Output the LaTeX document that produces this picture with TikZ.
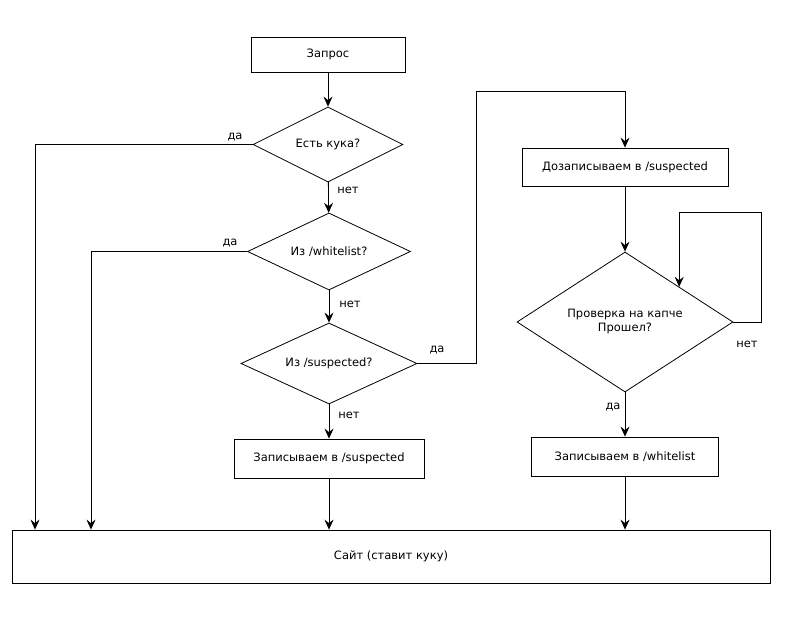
\documentclass[tikz,border=0pt]{standalone}
\usepackage{fontspec}
\setmainfont{DejaVu Sans}
\usetikzlibrary{shapes.geometric,arrows.meta}
\begin{document}
\begin{tikzpicture}[x=1pt,y=-1pt,
  every node/.style={font=\fontsize{11.5}{14}\selectfont},
  box/.style={draw,line width=0.8pt,inner sep=0pt,align=center},
  dia/.style={draw,line width=0.8pt,shape=diamond,inner sep=0pt,align=center},
  lbl/.style={inner sep=0pt},
  conn/.style={line width=0.8pt,-{Stealth[length=10pt,width=9pt,inset=3.5pt]}},
  plain/.style={line width=0.8pt}]
\useasboundingbox[fill=white] (0,0) rectangle (800,620);
\node[box,minimum width=154pt,minimum height=35pt] (q) at (328,54.5) {Запрос};
\node[dia,aspect=2,minimum width=150pt,minimum height=75pt] (d1) at (328,144.5) {Есть кука?};
\node[dia,aspect=2.1,minimum width=163pt,minimum height=77pt] (d2) at (329,251.5) {Из /whitelist?};
\node[dia,aspect=2.17,minimum width=176pt,minimum height=81pt] (d3) at (329,363.5) {Из /suspected?};
\node[box,minimum width=190pt,minimum height=39pt] (s) at (329,458.5) {Записываем в /suspected};
\node[box,minimum width=206pt,minimum height=38pt] (dz) at (625,167) {Дозаписываем в /suspected};
\node[dia,aspect=1.54,minimum width=216pt,minimum height=140pt] (d4) at (625,322) {Проверка на капче\\Прошел?};
\node[box,minimum width=187pt,minimum height=39pt] (w) at (625,456.5) {Записываем в /whitelist};
\node[box,minimum width=758pt,minimum height=53pt] (site) at (391,556.5) {Сайт (ставит куку)};
\coordinate (a1) at (35,0);
\coordinate (a2) at (91,0);
\coordinate (c1) at (476,91);
\coordinate (l1) at (761,212);
\draw[conn] (q) -- (d1);
\draw[conn] (d1) -- (d2);
\draw[conn] (d2) -- (d3);
\draw[conn] (d3) -- (s);
\draw[conn] (s) -- (site.north -| s);
\draw[conn] (d1.west) -| (site.north -| a1);
\draw[conn] (d2.west) -| (site.north -| a2);
\draw[conn] (d3.east) -| (c1) -| (dz.north);
\draw[conn] (dz) -- (d4);
\draw[conn] (d4.east) -| (l1) -| (d4.north east);
\draw[conn] (d4) -- (w);
\draw[conn] (w) -- (site.north -| w);
\node[lbl] (y1) at (235,137) {да};
\node[lbl] (n1) at (348,190) {нет};
\node[lbl] (y2) at (230,243) {да};
\node[lbl] (n2) at (350,304) {нет};
\node[lbl] (y3) at (437,350) {да};
\node[lbl] (n3) at (349,415) {нет};
\node[lbl] (n4) at (747,344) {нет};
\node[lbl] (y4) at (613,407) {да};
\end{tikzpicture}
\end{document}
